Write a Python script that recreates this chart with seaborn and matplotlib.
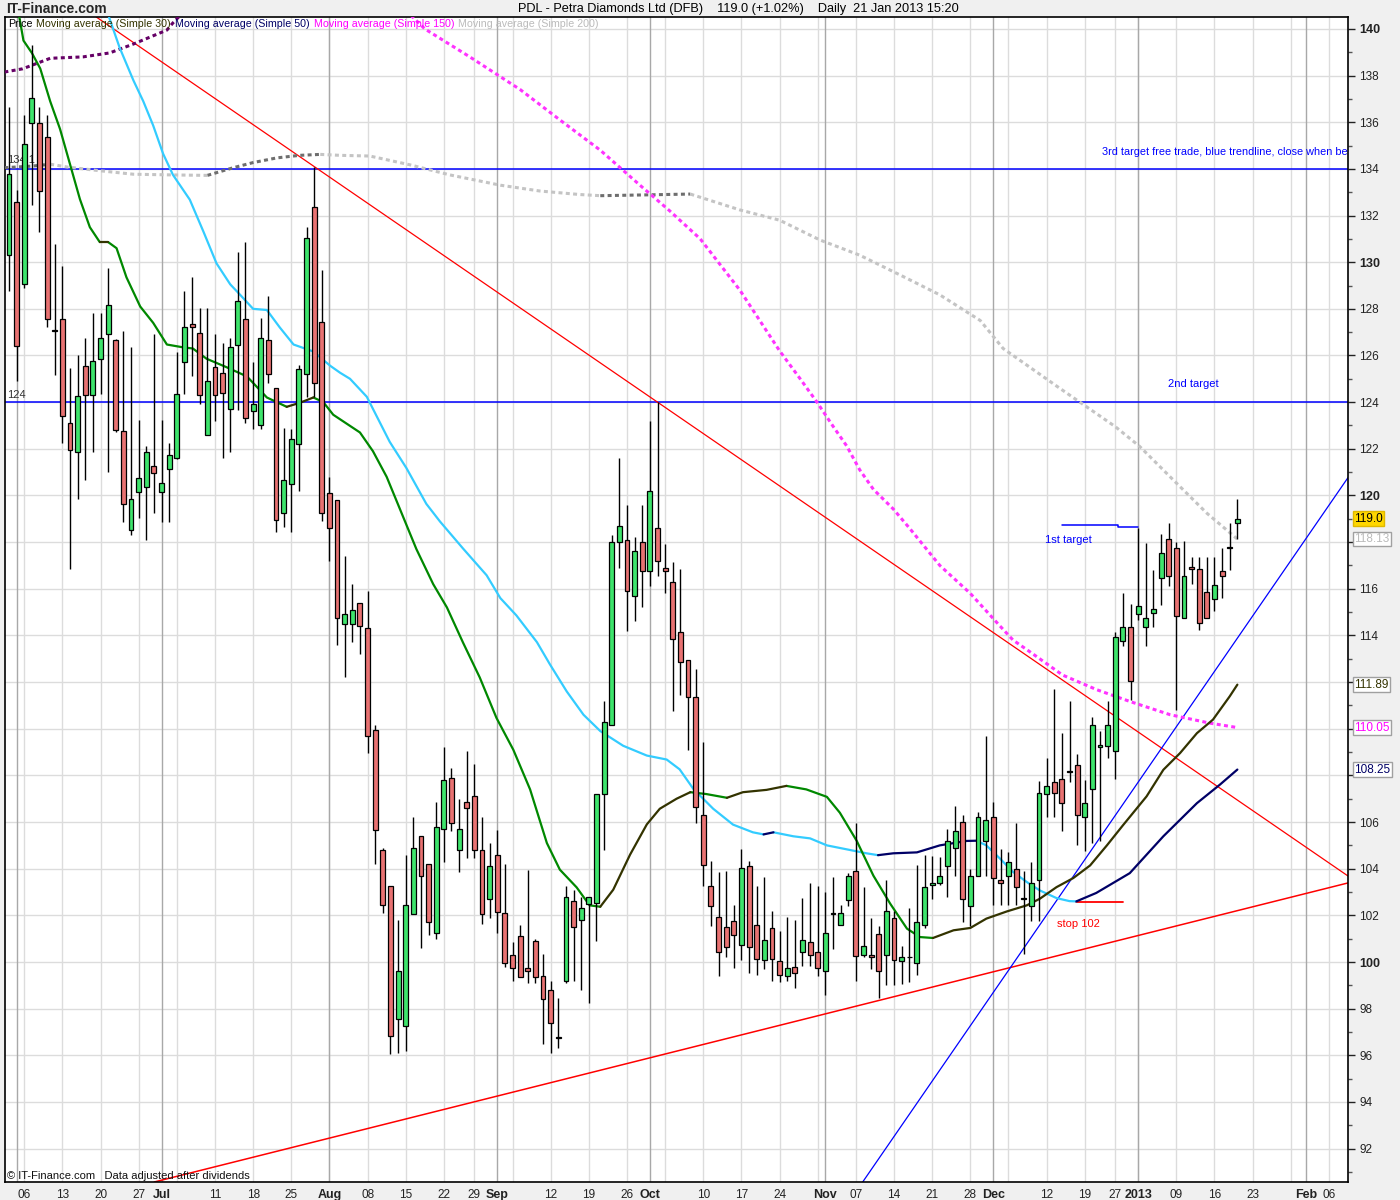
import numpy as np
import pandas as pd
import matplotlib
matplotlib.use("Agg")
import matplotlib.pyplot as plt
import seaborn as sns

# LSE trading days on the axis (bank holidays dropped)
holidays = ["2012-06-04", "2012-06-05", "2012-08-27",
            "2012-12-25", "2012-12-26", "2013-01-01"]
days = pd.bdate_range("2012-05-31", "2013-02-08")
days = days[~days.isin(pd.to_datetime(holidays))]

# daily candles, 31 May 2012 .. 21 Jan 2013
opens = [130.3, 132.6, 129.05, 135.95, 135.95, 135.35, 127.05, 127.55, 123.1, 121.85,
         125.55, 124.3, 125.85, 126.9, 126.65, 122.75, 118.5, 120.15, 120.35, 121.25,
         120.15, 121.15, 121.6, 125.7, 127.35, 126.95, 122.6, 125.5, 125.25, 123.7,
         126.45, 127.55, 123.6, 123.0, 126.65, 124.6, 119.25, 120.5, 122.2, 125.2,
         132.35, 127.45, 120.1, 119.8, 114.5, 114.5, 115.4, 114.3, 109.95, 104.8,
         103.25, 97.55, 97.25, 102.05, 105.4, 104.2, 101.25, 105.7, 107.9, 104.8,
         106.85, 107.1, 104.8, 102.7, 104.6, 102.1, 100.3, 101.1, 99.75, 100.9,
         99.4, 98.8, 96.75, 99.2, 102.6, 101.8, 102.5, 102.55, 107.2, 110.15,
         118.0, 118.1, 115.7, 118.0, 116.75, 118.6, 116.9, 116.3, 114.15, 112.95,
         111.35, 106.3, 103.25, 101.95, 101.5, 101.75, 100.75, 104.1, 101.6, 100.1,
         101.45, 100.05, 99.4, 99.8, 100.45, 100.85, 100.45, 99.6, 102.05, 101.6,
         102.65, 103.9, 100.3, 100.3, 101.2, 100.3, 101.9, 100.05, 100.2, 99.95,
         101.6, 103.3, 103.4, 104.1, 104.9, 106.0, 102.4, 103.7, 105.2, 106.2,
         103.5, 103.7, 104.0, 102.7, 102.4, 103.5, 107.2, 107.7, 107.85, 108.15,
         108.45, 106.2, 107.4, 109.2, 109.25, 109.05, 113.75, 114.35, 114.9, 114.35,
         114.95, 116.45, 118.15, 117.75, 114.75, 116.95, 116.85, 115.85, 115.55, 116.75,
         117.75, 118.8]
highs = [136.65, 133.1, 136.3, 139.3, 136.65, 136.3, 130.8, 129.85, 125.45, 126.0,
         126.75, 127.8, 127.8, 129.75, 126.7, 127.05, 126.35, 123.25, 122.1, 126.9,
         123.25, 122.25, 126.15, 128.75, 129.35, 128.05, 128.05, 126.9, 126.55, 126.75,
         130.45, 130.85, 125.7, 127.6, 128.55, 124.6, 122.9, 122.85, 125.6, 131.5,
         134.1, 129.65, 120.8, 119.8, 117.4, 116.2, 115.4, 115.9, 110.15, 104.9,
         103.25, 101.8, 104.6, 106.2, 105.4, 104.2, 106.85, 109.2, 108.3, 107.0,
         109.05, 108.5, 106.2, 105.1, 105.65, 104.2, 100.85, 101.6, 103.95, 101.0,
         100.35, 99.2, 98.45, 103.25, 103.1, 102.8, 102.8, 107.2, 111.2, 118.3,
         121.6, 119.6, 118.2, 119.6, 123.2, 124.0, 117.9, 117.15, 116.85, 112.95,
         112.55, 109.45, 104.35, 103.85, 103.9, 102.45, 104.85, 104.35, 103.25, 103.65,
         102.2, 101.35, 101.95, 101.8, 102.75, 103.4, 103.25, 103.0, 103.65, 102.45,
         103.8, 105.95, 103.2, 101.9, 101.55, 103.5, 102.2, 100.7, 102.3, 104.15,
         104.6, 104.55, 104.5, 105.7, 106.7, 106.3, 104.0, 106.45, 109.7, 106.85,
         104.85, 104.7, 105.95, 103.9, 104.3, 107.75, 108.75, 111.7, 109.8, 111.2,
         108.9, 107.8, 110.5, 109.9, 111.2, 114.15, 115.8, 115.35, 118.6, 117.95,
         116.8, 118.35, 118.8, 118.0, 118.05, 117.35, 117.35, 117.35, 117.35, 117.75,
         118.8, 119.85]
lows = [128.75, 124.9, 128.9, 132.45, 131.3, 127.2, 125.15, 122.25, 116.85, 119.85,
        120.65, 121.85, 124.35, 121.0, 122.7, 118.85, 118.3, 119.05, 118.1, 119.25,
        118.85, 118.85, 121.55, 124.35, 125.1, 123.9, 122.6, 123.2, 121.6, 121.85,
        123.65, 123.1, 122.85, 122.85, 124.8, 118.45, 118.65, 118.45, 120.2, 124.2,
        124.2, 118.9, 117.2, 113.6, 112.2, 113.7, 113.2, 108.95, 104.2, 102.1,
        96.05, 96.1, 96.2, 102.05, 100.6, 101.15, 101.0, 104.3, 105.6, 103.85,
        104.45, 104.45, 101.65, 101.9, 101.25, 99.8, 99.2, 99.35, 99.1, 99.1,
        96.5, 96.1, 96.3, 99.1, 99.2, 98.8, 98.25, 100.9, 104.8, 110.15,
        116.9, 114.2, 114.6, 115.2, 116.1, 116.55, 115.8, 110.75, 111.45, 109.1,
        105.95, 103.25, 101.55, 99.4, 100.2, 99.75, 100.1, 99.55, 99.45, 99.7,
        99.2, 99.15, 99.2, 98.9, 99.85, 99.85, 99.4, 98.6, 100.55, 101.6,
        102.4, 99.2, 100.2, 99.7, 98.45, 99.0, 99.0, 99.05, 99.15, 99.45,
        101.45, 102.7, 103.3, 102.8, 103.7, 101.7, 101.55, 103.7, 103.7, 102.45,
        102.45, 102.45, 102.45, 100.35, 101.75, 101.75, 106.2, 106.2, 105.6, 107.7,
        105.0, 104.75, 105.1, 105.2, 108.75, 107.85, 113.55, 111.25, 114.65, 113.55,
        114.35, 115.3, 116.1, 110.8, 114.75, 116.2, 114.25, 114.75, 115.05, 115.6,
        116.8, 118.15]
closes = [133.8, 126.4, 135.05, 137.05, 133.05, 127.55, 127.05, 123.4, 121.95, 124.25,
          124.3, 125.75, 126.75, 128.15, 122.8, 119.65, 119.85, 120.75, 121.85, 120.95,
          120.55, 121.75, 124.35, 127.2, 127.2, 124.3, 124.9, 124.3, 124.4, 126.35,
          128.35, 123.3, 123.9, 126.75, 125.2, 118.95, 120.65, 122.4, 125.4, 131.05,
          124.8, 119.25, 118.6, 114.75, 114.9, 115.1, 114.4, 109.7, 105.65, 102.45,
          96.85, 99.6, 102.45, 104.9, 103.7, 101.7, 105.8, 107.8, 105.95, 105.7,
          106.6, 104.8, 102.05, 104.1, 102.15, 99.95, 99.75, 99.35, 99.6, 99.35,
          98.4, 97.4, 96.75, 102.8, 101.5, 102.3, 102.8, 107.2, 110.3, 118.0,
          118.7, 115.9, 117.6, 116.75, 120.2, 117.2, 116.75, 113.85, 112.85, 111.35,
          106.65, 104.15, 102.4, 100.45, 100.65, 101.15, 104.05, 100.65, 100.15, 100.95,
          100.15, 99.45, 99.75, 99.55, 100.95, 100.3, 99.75, 101.25, 102.05, 102.1,
          103.7, 100.25, 100.7, 100.2, 99.6, 102.2, 100.1, 100.2, 100.2, 101.7,
          103.2, 103.4, 103.7, 105.2, 105.6, 102.7, 103.7, 106.2, 106.1, 103.6,
          103.4, 104.3, 103.2, 102.7, 103.4, 107.25, 107.55, 107.25, 106.8, 108.15,
          106.3, 106.8, 110.15, 109.3, 110.15, 113.95, 114.35, 112.05, 115.25, 114.75,
          115.15, 117.55, 116.55, 114.85, 116.55, 116.85, 114.55, 114.75, 116.15, 116.55,
          117.75, 119.0]

# moving averages (trading-day position, value)
ma30_pos = [1.2, 1.9, 3.0, 4.1, 5.4, 6.7, 8.0, 9.3, 10.6, 11.9, 13.0, 14.1, 15.4, 17.2,
            18.9, 20.7, 22.8, 24.1, 25.9, 28.5, 31.2, 33.8, 36.4, 38.1, 39.9, 41.2, 42.5,
            46.0, 47.7, 49.5, 51.2, 53.4, 55.6, 57.4, 59.5, 61.7, 63.9, 66.1, 68.3, 70.5,
            72.2, 74.4, 76.1, 77.5, 79.2, 81.4, 83.6, 85.3, 87.5, 89.3, 91.4, 94.1, 96.2,
            99.3, 101.9, 104.5, 107.2, 108.9, 111.1, 113.3, 115.5, 117.7, 119.4, 121.1,
            123.8, 126.0, 128.1, 130.8, 133.4, 135.1, 137.3, 139.5, 141.7, 143.9, 146.0,
            149.1, 151.3, 153.5, 155.7, 157.8, 160.0, 161.0]
ma30_val = [140.8, 139.5, 138.97, 138.3, 136.9, 135.7, 134.2, 132.7, 131.5, 130.86, 130.86,
            130.6, 129.35, 128.1, 127.4, 126.47, 126.35, 126.3, 125.86, 125.5, 125.1, 124.2,
            123.8, 123.97, 124.2, 124.0, 123.46, 122.7, 121.9, 120.8, 119.45, 117.7, 116.2,
            115.2, 113.7, 112.2, 110.46, 109.1, 107.4, 105.1, 103.96, 103.2, 102.43, 102.37,
            103.1, 104.6, 105.9, 106.57, 107.0, 107.28, 107.2, 107.04, 107.28, 107.38,
            107.55, 107.4, 107.08, 106.4, 105.2, 103.7, 102.5, 101.43, 101.07, 101.03,
            101.36, 101.46, 101.86, 102.17, 102.43, 102.71, 103.21, 103.6, 104.14, 105.0,
            105.86, 107.1, 108.24, 108.96, 109.81, 110.39, 111.39, 111.89]
ma50_pos = [12.8, 14.5, 16.3, 17.6, 18.9, 20.2, 21.5, 23.7, 25.5, 27.2, 29.0, 30.3, 32.0,
            33.8, 35.5, 37.3, 39.9, 42.1, 43.4, 44.7, 46.9, 49.9, 52.1, 54.7, 56.5, 59.5,
            62.6, 64.4, 66.5, 69.2, 70.9, 73.1, 75.3, 77.5, 80.5, 83.6, 86.2, 87.9, 89.7,
            92.3, 94.9, 97.5, 98.9, 100.2, 102.8, 105.0, 107.2, 109.8, 112.4, 113.9, 115.9,
            119.0, 122.0, 125.5, 126.8, 128.1, 129.9, 131.6, 133.4, 135.1, 137.3, 139.0,
            139.9, 142.5, 146.9, 151.3, 155.7, 158.7, 161.0]
ma50_val = [140.8, 139.2, 137.8, 136.9, 135.86, 134.65, 133.74, 132.68, 131.3, 129.95,
            129.05, 128.6, 128.0, 127.95, 127.2, 126.47, 126.17, 125.56, 125.26, 125.0,
            124.23, 122.3, 121.17, 119.64, 118.88, 117.73, 116.58, 115.6, 114.86, 113.71,
            112.76, 111.6, 110.6, 109.9, 109.27, 108.85, 108.68, 108.26, 107.42, 106.57,
            105.89, 105.56, 105.47, 105.56, 105.39, 105.3, 105.0, 104.83, 104.66, 104.58,
            104.66, 104.7, 105.0, 105.19, 105.2, 105.0, 104.43, 103.86, 103.43, 103.07,
            102.74, 102.61, 102.6, 102.96, 103.81, 105.39, 106.81, 107.6, 108.25]
ma150_pos = [-0.6, 1.8, 5.4, 9.7, 13.2, 16.3, 18.5, 20.7, 21.5, 23.1, 52.0, 54.5, 60.4,
             67.0, 72.2, 77.5, 82.7, 86.6, 90.6, 93.2, 95.8, 98.4, 101.0, 103.7, 105.9,
             108.0, 109.8, 111.5, 113.3, 115.9, 118.1, 122.0, 126.0, 129.9, 131.6, 133.8,
             138.1, 142.6, 146.9, 152.2, 157.4, 161.0]
ma150_val = [138.15, 138.29, 138.74, 138.8, 138.97, 139.35, 139.65, 139.95, 140.26, 140.8,
             140.8, 140.0, 138.8, 137.4, 136.1, 134.8, 133.3, 132.2, 131.0, 129.9, 128.8,
             127.5, 126.2, 125.0, 124.0, 122.97, 122.12, 121.1, 120.26, 119.42, 118.57,
             117.0, 115.8, 114.4, 113.8, 113.3, 112.3, 111.67, 111.17, 110.6, 110.24, 110.05]
ma200_pos = [-0.6, 3.1, 5.4, 7.6, 11.9, 16.3, 21.5, 26.0, 29.4, 32.0, 35.1, 38.1, 40.8,
             43.4, 47.3, 52.6, 57.8, 64.4, 69.6, 74.8, 77.5, 82.7, 89.3, 95.8, 101.0,
             106.3, 111.5, 116.8, 122.0, 127.3, 130.3, 137.7, 145.0, 148.2, 152.8, 157.0,
             161.0]
ma200_val = [134.05, 134.12, 134.2, 134.08, 133.92, 133.77, 133.74, 133.72, 134.05, 134.27,
             134.47, 134.58, 134.62, 134.58, 134.55, 134.17, 133.74, 133.3, 133.05, 132.9,
             132.85, 132.88, 132.92, 132.24, 131.8, 130.95, 130.3, 129.45, 128.6, 127.5,
             126.3, 124.6, 122.95, 122.1, 120.6, 119.24, 118.13]

# hand-drawn analysis on the chart
levels = [134.0, 124.0]
support_pts = [(114.6, 98.4), (175.5, 103.39)]
uptrend_pts = [(133.8, 100.97), (175.3, 120.67)]
target1_pos = [138.0, 145.4, 145.4, 148.0]
target1_val = [118.74, 118.74, 118.64, 118.64]
stop_pos = [139.9, 146.0]
stop_val = [102.57, 102.57]

last_labels = ["119.0", "118.13", "111.89", "110.05", "108.25"]
last_vals = [119.0, 118.13, 111.89, 110.05, 108.25]
hidden_ticks = [108, 110, 112, 118]   # covered by the value boxes

GREEN, RED = "#3EE46C", "#E87272"
W, H = 1400, 1200

sns.set_style("white")
plt.rcParams["font.family"] = ["Liberation Sans", "DejaVu Sans"]

fig = plt.figure(figsize=(14, 12), dpi=100, facecolor="#F0F0F0")
ax = fig.add_axes([5 / W, 1 - 1182 / H, (1348 - 5) / W, (1182 - 17) / H], facecolor="white")
ax.set_xlim(-0.52, 175.5)
ax.set_ylim(90.57, 140.51)

# grid
for v in np.arange(92, 141, 2):
    ax.axhline(v, color="#DCDCDC", lw=1, zorder=0)

month_starts = [i for i in range(1, len(days)) if days[i].month != days[i - 1].month]
wed_idx = [days.searchsorted(d) for d in pd.date_range("2012-06-06", "2013-02-06", freq="W-WED")]
for i in wed_idx:
    ax.axvline(i, color="#DCDCDC", lw=1, zorder=0)
for i in month_starts:
    ax.axvline(i, color="#A8A8A8", lw=1, zorder=0)

ms_weeks = {tuple(days[i].isocalendar())[:2] for i in month_starts}
tick_pos, tick_lab, tick_bold = [], [], []
for i in month_starts:
    if days[i].month == 6:
        continue
    tick_pos.append(i)
    tick_lab.append(str(days[i].year) if days[i].month == 1 else days[i].strftime("%b"))
    tick_bold.append(True)
for i in wed_idx:
    if tuple(days[i].isocalendar())[:2] in ms_weeks or i in month_starts:
        continue
    tick_pos.append(i)
    tick_lab.append(days[i].strftime("%d"))
    tick_bold.append(False)
ax.set_xticks(tick_pos)
ax.set_xticklabels(tick_lab)
for t, b in zip(ax.get_xticklabels(), tick_bold):
    t.set_fontsize(9 if b else 8.5)
    if b:
        t.set_fontweight("bold")
ax.tick_params(axis="x", length=0, pad=5, colors="#222222")

ax.yaxis.tick_right()
yt = list(range(92, 141, 2))
ax.set_yticks(yt)
ax.set_yticks(np.arange(91, 141, 2), minor=True)
ax.set_yticklabels(["" if v in hidden_ticks else f"{v}" for v in yt])
for t, v in zip(ax.get_yticklabels(), yt):
    t.set_fontsize(9 if v % 10 == 0 else 8.5)
    if v % 10 == 0:
        t.set_fontweight("bold")
ax.tick_params(axis="y", which="major", length=5, width=1, pad=3, colors="#222222")
ax.tick_params(axis="y", which="minor", length=3, width=1, colors="#555555")
for s in ax.spines.values():
    s.set_color("black")
    s.set_linewidth(1.2)

# horizontal levels and trendlines
for lv in levels:
    ax.axhline(lv, color="#0000FF", lw=1.1, zorder=2)
ax.axline((40, highs[40]), (85, highs[85]), color="#FF0000", lw=0.9, zorder=2)
ax.axline(support_pts[0], support_pts[1], color="#FF0000", lw=1.1, zorder=2)
ax.axline(uptrend_pts[0], uptrend_pts[1], color="#0000FF", lw=0.9, zorder=2)
ax.plot(target1_pos, target1_val, color="#0000FF", lw=1.1, zorder=2)
ax.plot(stop_pos, stop_val, color="#FF0000", lw=1.3, zorder=2)


def slope_segments(pos, val):
    rows, seg, prev = [], 0, None
    for i in range(len(pos) - 1):
        d = "up" if val[i + 1] >= val[i] else "down"
        if d != prev:
            seg += 1
            prev = d
            rows.append((seg, d, pos[i], val[i]))
        rows.append((seg, d, pos[i + 1], val[i + 1]))
    return pd.DataFrame(rows, columns=["seg", "dir", "p", "v"])


dots = (0, (1.3, 1.1))
ma_specs = [
    (ma200_pos, ma200_val, {"up": "#6E6E6E", "down": "#C4C4C4"}, 2.2, dots),
    (ma150_pos, ma150_val, {"up": "#660066", "down": "#FF33FF"}, 2.2, dots),
    (ma50_pos, ma50_val, {"up": "#000066", "down": "#33CCFF"}, 1.6, "-"),
    (ma30_pos, ma30_val, {"up": "#333300", "down": "#008800"}, 1.6, "-"),
]
for pos, val, pal, lw, ls in ma_specs:
    df = slope_segments(pos, val)
    sns.lineplot(data=df, x="p", y="v", hue="dir", units="seg", estimator=None,
                 sort=False, palette=pal, linewidth=lw, linestyle=ls,
                 legend=False, ax=ax, zorder=3)

# candles
o, h, l, c = map(np.array, (opens, highs, lows, closes))
xs = np.arange(len(o))
ax.vlines(xs, l, h, color="black", lw=1, zorder=4)
body_lo = np.minimum(o, c)
body_h = np.maximum(np.abs(c - o), 0.03)
ax.bar(xs, body_h, bottom=body_lo, width=0.64,
       color=np.where(c > o, GREEN, np.where(c < o, RED, "black")),
       edgecolor="black", linewidth=0.9, zorder=5)
ax.set_xlabel("")
ax.set_ylabel("")

# annotations
ax.text(143.3, 134.73, "3rd target free trade, blue trendline, close when be",
        color="#0000FF", fontsize=7.8, va="center", ha="left", clip_on=True)
ax.text(151.9, 124.78, "2nd target", color="#0000FF", fontsize=8, va="center")
ax.text(135.8, 118.1, "1st target", color="#0000FF", fontsize=8, va="center")
ax.text(137.4, 101.63, "stop 102", color="#FF0000", fontsize=8, va="center")
ax.text(-0.2, 134.38, "134.1", color="#333333", fontsize=8, va="center")
ax.text(-0.2, 124.3, "124", color="#333333", fontsize=8, va="center")

# last value boxes on the price scale
box_style = [("#000000", "#FFD700", "#E0B800"), ("#BBBBBB", "white", "#A0A0A0"),
             ("#333300", "white", "#A0A0A0"), ("#FF00FF", "white", "#A0A0A0"),
             ("#000066", "white", "#A0A0A0")]
for lab, v, (tc, fc, ec) in zip(last_labels, last_vals, box_style):
    ax.annotate(lab, xy=(1.0045, v), xycoords=("axes fraction", "data"),
                fontsize=8.5, color=tc, va="center", ha="left", annotation_clip=False,
                bbox=dict(boxstyle="square,pad=0.12", fc=fc, ec=ec, lw=1), zorder=10)

# header, legend row and footer
fig.text(6 / W, 1 - 9 / H, "IT-Finance.com", fontsize=10, fontweight="bold", va="center")
fig.text(738 / W, 1 - 9 / H,
         "PDL - Petra Diamonds Ltd (DFB)    119.0 (+1.02%)    Daily  21 Jan 2013 15:20",
         fontsize=9.2, ha="center", va="center", color="black")

legend_row = [("Price", "black"), ("Moving average (Simple 30)", "#333300"),
              ("Moving average (Simple 50)", "#000066"),
              ("Moving average (Simple 150)", "#FF00FF"),
              ("Moving average (Simple 200)", "#BBBBBB")]
renderer = fig.canvas.get_renderer()
px = 8
for txt, col in legend_row:
    t = fig.text(px / W, 1 - 24 / H, txt, fontsize=7.7, color=col, va="center")
    px = t.get_window_extent(renderer).x1 + 4

fig.text(7 / W, 1 - 1176 / H, "\u00a9 IT-Finance.com   Data adjusted after dividends",
         fontsize=8, va="center", color="#111111")

fig.savefig("out.png", dpi=100, facecolor=fig.get_facecolor())
